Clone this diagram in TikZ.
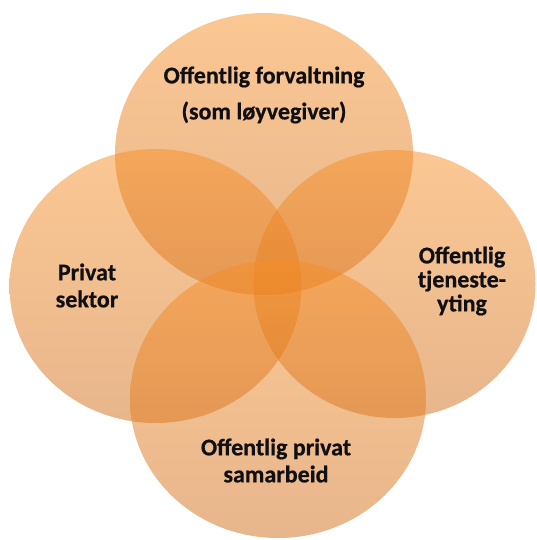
\documentclass[tikz,border=0pt]{standalone}
\usepackage{fontspec}
\setmainfont{Carlito}[BoldFeatures={FakeBold=0.6}]
\begin{document}
\begin{tikzpicture}[x=1pt,y=-1pt,
  bubble/.style={top color=orangeTop, bottom color=orangeBot, opacity=0.5},
  label/.style={align=center, text=inkdark, inner sep=0pt},
]
\definecolor{orangeTop}{RGB}{247,143,39}
\definecolor{orangeBot}{RGB}{209,109,25}
\definecolor{inkdark}{RGB}{15,15,20}
\useasboundingbox (0,0) rectangle (536,540);

% four overlapping translucent bubbles
\shade[bubble] (264,154)   ellipse [x radius=149, y radius=141];
\shade[bubble] (155.5,286) ellipse [x radius=146, y radius=137];
\shade[bubble] (394.5,284) ellipse [x radius=141, y radius=134];
\shade[bubble] (278,399)   ellipse [x radius=148, y radius=139];

% labels
\node[label, font=\bfseries\fontsize{24}{36}\selectfont] (forv) at (264,95)
  {Offentlig forvaltning\\(som løyvegiver)};
\node[label, font=\bfseries\fontsize{24}{27}\selectfont] (priv) at (87,285.5)
  {Privat\\sektor};
\node[label, font=\bfseries\fontsize{24}{24}\selectfont] (tjen) at (462,281)
  {Offentlig\\tjeneste-\\yting};
\node[label, font=\bfseries\fontsize{24}{27}\selectfont] (ops) at (276,460.5)
  {Offentlig privat\\samarbeid};
\end{tikzpicture}
\end{document}
